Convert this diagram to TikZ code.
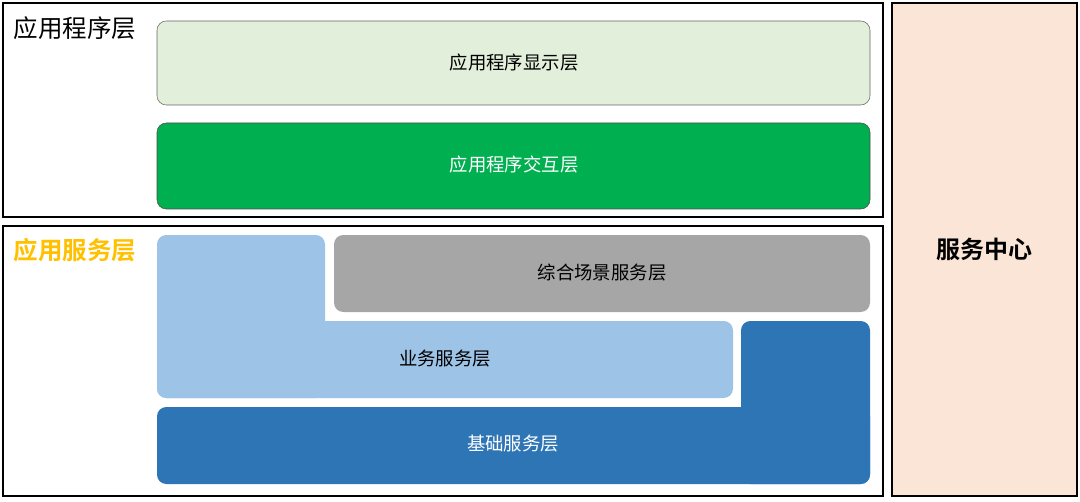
\documentclass[tikz,border=0pt]{standalone}
\usepackage{fontspec}
\setmainfont{Noto Sans CJK SC}[BoldFont={Noto Sans CJK SC Bold}]
\definecolor{lightgreen}{RGB}{226,239,218}
\definecolor{deepgreen}{RGB}{0,176,80}
\definecolor{lightblue}{RGB}{157,195,230}
\definecolor{midgray}{RGB}{166,166,166}
\definecolor{deepblue}{RGB}{46,117,182}
\definecolor{peach}{RGB}{251,229,214}
\definecolor{amber}{RGB}{255,192,0}

\begin{document}
\begin{tikzpicture}[x=0.75pt,y=-0.75pt,
  frame/.style={line width=1.5pt,draw=black},
  block/.style={rounded corners=7pt},
  txt/.style={font=\fontsize{13.8}{16}\selectfont},
  head/.style={font=\fontsize{18.4}{22}\selectfont}]
  \fill[white] (0,0) rectangle (1080,502);
  \useasboundingbox (0,0) rectangle (1080,502);
  % frames
  \draw[frame] (3,3) rectangle (883,217);
  \draw[frame] (3,226) rectangle (883,496);
  \draw[frame,fill=peach] (892,3) rectangle (1077,496);
  \node[head] (apphead) at (75,28) {应用程序层};
  \node[text=amber,font=\fontsize{18.4}{22}\selectfont\bfseries] (svchead) at (75,250) {应用服务层};
  \node[font=\fontsize{18}{22}\selectfont\bfseries] (center) at (984,249) {服务中心};
  % application layer
  \draw[block,fill=lightgreen,draw=black!60] (157,21) rectangle (870,105);
  \draw[block,fill=deepgreen,draw=black!70] (157,123) rectangle (870,209);
  \node[txt] (show) at (514,63) {应用程序显示层};
  \node[txt,text=white] (interact) at (514,165) {应用程序交互层};
  % service layer
  \fill[block,midgray] (334,235) rectangle (870,312);
  \fill[block,lightblue] (157,235) rectangle (325,398);
  \fill[block,lightblue] (157,321) rectangle (733,398);
  \fill[block,deepblue] (741,321) rectangle (870,484);
  \fill[block,deepblue] (157,407) rectangle (870,484);
  \node[txt] (scene) at (602,273) {综合场景服务层};
  \node[txt] (biz) at (445,359) {业务服务层};
  \node[txt,text=white] (base) at (513,444) {基础服务层};
\end{tikzpicture}
\end{document}
